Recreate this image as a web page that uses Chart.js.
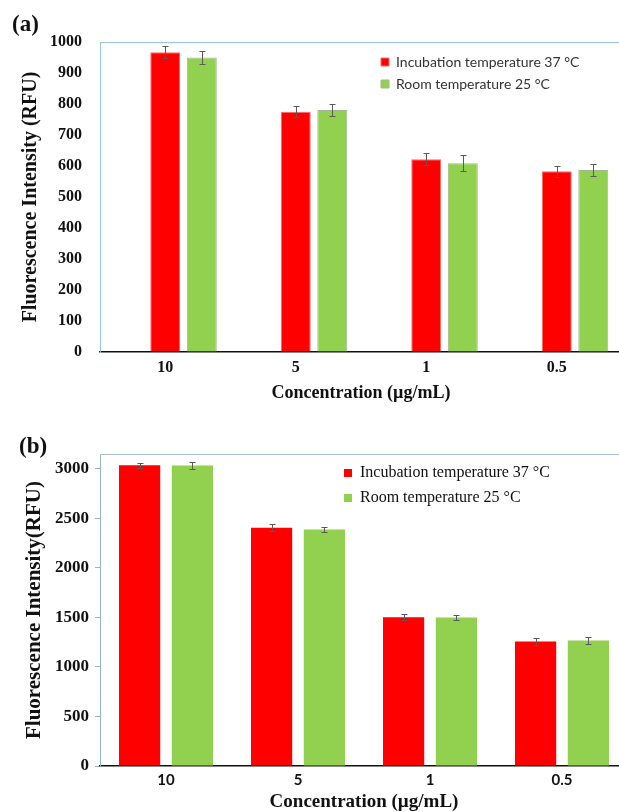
<!DOCTYPE html>
<html><head><meta charset="utf-8">
<script src="https://cdn.jsdelivr.net/npm/chart.js@4"></script>
<style>
html,body{margin:0;padding:0;background:#fff;overflow:hidden;width:619px;height:812px;position:relative;}
#wrapA{position:absolute;left:0;top:0;width:640px;height:410px;}
#wrapB{position:absolute;left:0;top:410px;width:640px;height:404px;}
.panel{position:absolute;font-family:'Liberation Serif','Times New Roman',serif;font-weight:bold;font-size:23px;line-height:23px;color:#111;}
</style></head><body>
<div id="wrapA"><canvas id="chartA" width="640" height="410"></canvas></div>
<div id="wrapB"><canvas id="chartB" width="640" height="404"></canvas></div>
<div class="panel" style="left:12px;top:12px">(a)</div>
<div class="panel" style="left:19px;top:434px">(b)</div>
<script>
// ---------- data ----------
const categories = ['10', '5', '1', '0.5'];
const seriesNames = ['Incubation temperature 37 °C', 'Room temperature 25 °C'];

// panel (a)
const incubationA = [967, 775, 622, 583];
const roomA = [950, 781, 609, 587];
const incubationErrA = [20, 17, 19, 18];
const roomErrA = [22, 20, 25, 20];
const yTicksA = [0, 100, 200, 300, 400, 500, 600, 700, 800, 900, 1000];

// panel (b)
const incubationB = [3036, 2405, 1503, 1256];
const roomB = [3033, 2388, 1500, 1266];
const incubationErrB = [27, 37, 34, 37];
const roomErrB = [33, 30, 25, 38];
const yTicksB = [0, 500, 1000, 1500, 2000, 2500, 3000];

// ---------- plugins ----------
const errorBars = {
  id: 'errorBars',
  afterDatasetsDraw(chart) {
    const ctx = chart.ctx, ys = chart.scales.y;
    chart.data.datasets.forEach((ds, i) => {
      if (!ds.errors) return;
      const meta = chart.getDatasetMeta(i);
      meta.data.forEach((bar, j) => {
        const v = ds.data[j], e = ds.errors[j];
        if (v == null || e == null) return;
        const x = Math.round(bar.x) + 0.5;
        const yt = Math.round(ys.getPixelForValue(v + e)) + 0.5;
        const yb = Math.round(ys.getPixelForValue(v - e)) + 0.5;
        ctx.save();
        ctx.strokeStyle = '#5a5a5a';
        ctx.lineWidth = 1;
        ctx.beginPath();
        ctx.moveTo(x, yt); ctx.lineTo(x, yb);
        ctx.moveTo(x - 3, yt); ctx.lineTo(x + 3, yt);
        ctx.moveTo(x - 3, yb); ctx.lineTo(x + 3, yb);
        ctx.stroke();
        ctx.restore();
      });
    });
  }
};

const topFrame = {
  id: 'topFrame',
  beforeDatasetsDraw(chart, args, opts) {
    const {left, right, top} = chart.chartArea;
    const ctx = chart.ctx;
    ctx.save();
    ctx.strokeStyle = opts.color || '#9DC3E6';
    ctx.lineWidth = 1;
    ctx.beginPath();
    ctx.moveTo(left, Math.round(top) + 0.5);
    ctx.lineTo(right, Math.round(top) + 0.5);
    ctx.stroke();
    ctx.restore();
  }
};

const placeLegend = {
  id: 'placeLegend',
  afterLayout(chart, args, opts) {
    const lg = chart.legend;
    if (!lg) return;
    lg.left = opts.x;
    lg.top = opts.y;
    lg.right = chart.width;
    lg.bottom = opts.y + 200;
  }
};

function numTick(v) { return String(v); }

// ---------- chart (a) ----------
const serifBold = 'Liberation Serif';
new Chart(document.getElementById('chartA'), {
  type: 'bar',
  data: {
    labels: categories,
    datasets: [
      { label: '', data: [null, null, null, null], backgroundColor: 'rgba(0,0,0,0)' },
      { label: seriesNames[0], data: incubationA, errors: incubationErrA,
        backgroundColor: '#FF0000', borderColor: '#F36A6A', borderWidth: 1 },
      { label: seriesNames[1], data: roomA, errors: roomErrA,
        backgroundColor: '#92D050', borderColor: '#A3B88E', borderWidth: 1 }
    ]
  },
  options: {
    responsive: false,
    animation: false,
    layout: { padding: { top: 42, left: 0, right: 18, bottom: 0 } },
    datasets: { bar: { barPercentage: 0.82, categoryPercentage: 0.84 } },
    scales: {
      x: {
        grid: { display: true, drawOnChartArea: false, drawTicks: false },
        border: { display: true, color: '#111', width: 1.5 },
        ticks: { color: '#111', padding: 6, font: { family: serifBold, weight: 'bold', size: 16 } },
        title: { display: true, text: 'Concentration (µg/mL)', color: '#111',
                 padding: { top: 0, bottom: 6 }, font: { family: serifBold, weight: 'bold', size: 18 } },
        afterFit: s => { s.height = 58; }
      },
      y: {
        min: 0, max: 1000,
        afterBuildTicks: s => { s.ticks = yTicksA.map(v => ({ value: v })); },
        grid: { display: true, drawOnChartArea: false, drawTicks: false },
        border: { display: true, color: '#9DC3E6', width: 1 },
        ticks: { color: '#111', padding: 18, callback: numTick, font: { family: serifBold, weight: 'bold', size: 16 } },
        title: { display: true, text: 'Fluorescence Intensity (RFU)', color: '#111',
                 padding: { top: 19, bottom: 0 }, font: { family: serifBold, weight: 'bold', size: 20 } },
        afterFit: s => { s.width = 100; }
      }
    },
    plugins: {
      legend: {
        position: 'chartArea', align: 'start',
        labels: { boxWidth: 8, boxHeight: 8, padding: 8, color: '#333',
                  font: { family: 'Lato', size: 14 },
                  filter: item => item.text !== '' }
      },
      placeLegend: { x: 373, y: 47 },
      topFrame: { color: '#9DC3E6' },
      tooltip: { enabled: false }
    }
  },
  plugins: [errorBars, topFrame, placeLegend]
});

// ---------- chart (b) ----------
new Chart(document.getElementById('chartB'), {
  type: 'bar',
  data: {
    labels: categories,
    datasets: [
      { label: seriesNames[0], data: incubationB, errors: incubationErrB, backgroundColor: '#FF0000', borderWidth: 0 },
      { label: seriesNames[1], data: roomB, errors: roomErrB, backgroundColor: '#92D050', borderWidth: 0 }
    ]
  },
  options: {
    responsive: false,
    animation: false,
    layout: { padding: { top: 44, left: 0, right: 12, bottom: 0 } },
    datasets: { bar: { barPercentage: 0.78, categoryPercentage: 0.80 } },
    scales: {
      x: {
        grid: { display: true, drawOnChartArea: false, drawTicks: false },
        border: { display: true, color: '#111', width: 1.5 },
        ticks: { color: '#111', padding: 5, font: { family: 'Lato', weight: 'bold', size: 15 } },
        title: { display: true, text: 'Concentration (µg/mL)', color: '#111',
                 padding: { top: 0, bottom: 1 }, font: { family: serifBold, weight: 'bold', size: 19 } },
        afterFit: s => { s.height = 48; }
      },
      y: {
        min: 0, max: 3150,
        afterBuildTicks: s => { s.ticks = yTicksB.map(v => ({ value: v })); },
        grid: { display: true, drawOnChartArea: false, drawTicks: true, tickLength: 5, color: '#95B3D7' },
        border: { display: true, color: '#95B3D7', width: 1 },
        ticks: { color: '#111', padding: 6, callback: numTick, font: { family: serifBold, weight: 'bold', size: 17 } },
        title: { display: true, text: 'Fluorescence Intensity(RFU)', color: '#111',
                 padding: { top: 22, bottom: 0 }, font: { family: serifBold, weight: 'bold', size: 21 } },
        afterFit: s => { s.width = 100; }
      }
    },
    plugins: {
      legend: {
        position: 'chartArea', align: 'start',
        labels: { boxWidth: 8, boxHeight: 8, padding: 9, color: '#111',
                  font: { family: serifBold, size: 16 } }
      },
      placeLegend: { x: 335, y: 46 },
      topFrame: { color: '#A9BDD6' },
      tooltip: { enabled: false }
    }
  },
  plugins: [errorBars, topFrame, placeLegend]
});
</script>
</body></html>
